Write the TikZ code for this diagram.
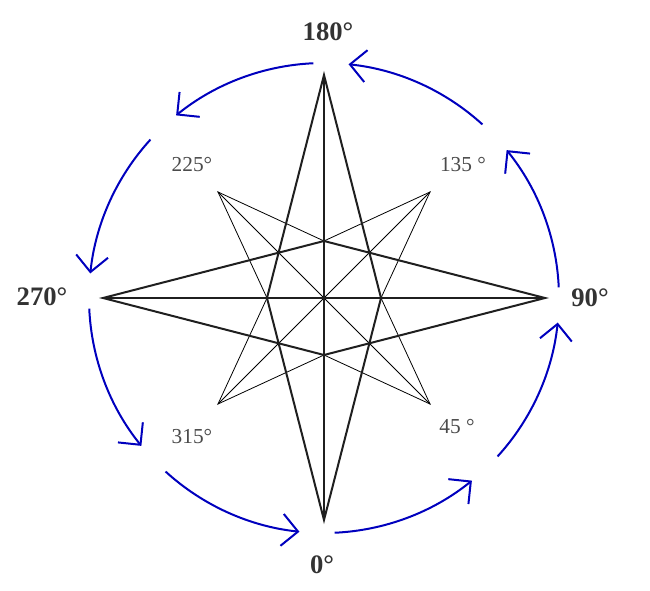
\documentclass[tikz,border=0pt]{standalone}
\usepackage{fontspec}
\setmainfont{Liberation Serif}
\usetikzlibrary{arrows.meta}
\definecolor{turnBlue}{RGB}{0,0,190}
\definecolor{mainTxt}{RGB}{51,51,51}
\definecolor{subTxt}{RGB}{75,75,75}

\begin{document}
\begin{tikzpicture}[
    x=0.75pt, y=-0.75pt,
    heavy/.style={line width=1.5pt, black!88, line join=miter},
    fine/.style={line width=0.6pt, black},
    turn/.style={line width=1.5pt, turnBlue, -{Straight Barb[length=12pt, width=24pt, line width=1.5pt]}},
    mainlbl/.style={font=\fontsize{20}{22}\selectfont\bfseries, text=mainTxt, inner sep=0pt},
    sublbl/.style={font=\fontsize{16}{18}\selectfont, text=subTxt, inner sep=0pt},
]
\useasboundingbox (0,0) rectangle (650,591);

% ========== POINTS: centre, main tips, inner corners, diagonal tips ==========
\coordinate (c) at (324,298);
\coordinate (N) at (324,75);
\coordinate (S) at (324,520);
\coordinate (W) at (103,298);
\coordinate (E) at (545,298);
\coordinate (ni) at (324,241);
\coordinate (si) at (324,355);
\coordinate (wi) at (267,298);
\coordinate (ei) at (381,298);
\coordinate (nw) at (218,192);
\coordinate (ne) at (430,192);
\coordinate (se) at (430,404);
\coordinate (sw) at (218,404);

% ========== LABELS ==========
\node[mainlbl] at (328,32) (lbl180) {180°};
\node[mainlbl] at (590,298) (lbl90) {90°};
\node[mainlbl] at (42,297) (lbl270) {270°};
\node[mainlbl] at (322,565) (lbl0) {0°};
\node[sublbl] at (463,165) (lbl135) {135 °};
\node[sublbl] at (192,165) (lbl225) {225°};
\node[sublbl] at (192,437) (lbl315) {315°};
\node[sublbl] at (457,427) (lbl45) {45 °};

% ========== STAR ==========
% thin diagonal star
\draw[fine] (nw) -- (se);
\draw[fine] (ne) -- (sw);
\draw[fine] (wi) -- (nw) -- (ni) -- (ne) -- (ei) -- (se) -- (si) -- (sw) -- cycle;

% heavy main star
\draw[heavy] (N) -- (S);
\draw[heavy] (W) -- (E);
\draw[heavy] (N) -- (wi) -- (S) -- (ei) -- cycle;
\draw[heavy] (W) -- (ni) -- (E) -- (si) -- cycle;

% ========== TURNING ARROWS (counter-clockwise) ==========
\foreach \k in {0,...,7}
  \draw[turn] (c) ++({-45*\k-2.6}:235) arc[start angle={-45*\k-2.6}, end angle={-45*\k-39}, radius=235];

\end{tikzpicture}
\end{document}
